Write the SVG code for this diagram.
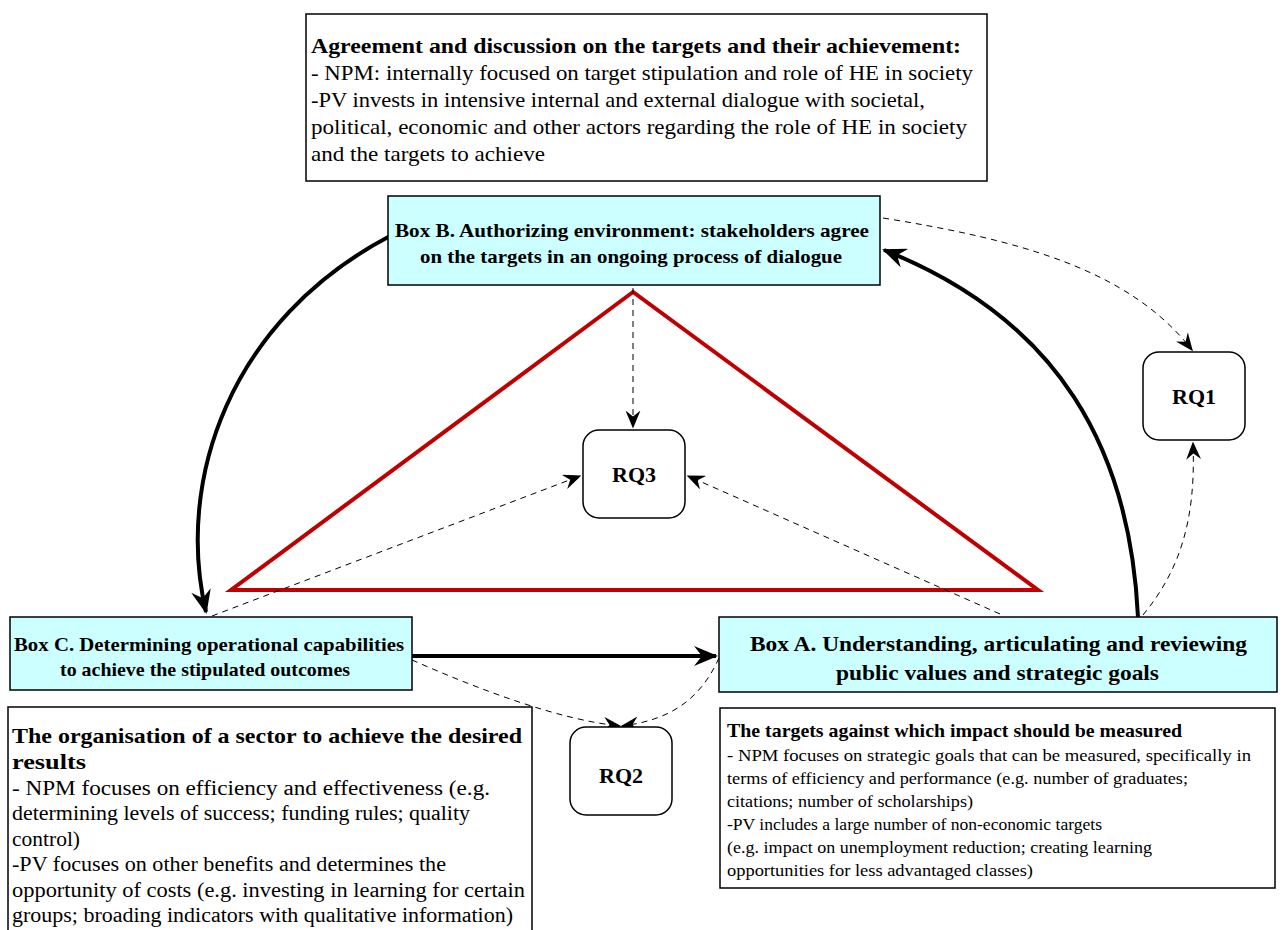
<svg xmlns="http://www.w3.org/2000/svg" width="1282" height="930" viewBox="0 0 1282 930">
<style>
.box{fill:#ffffff;stroke:#000;stroke-width:1.5}
.cy{fill:#ccffff;stroke:#000;stroke-width:1.5}
.rq{fill:#ffffff;stroke:#000;stroke-width:1.5}
text{font-family:"Liberation Serif","Times New Roman",serif;fill:#000}
.b{font-weight:bold}
.rql{font-weight:bold;font-size:22px}
.thick{fill:none;stroke:#000;stroke-width:4}
.dash{fill:none;stroke:#000;stroke-width:1;stroke-dasharray:6,5}
</style>
<defs>
<marker id="ah" viewBox="0 0 12 10" refX="11" refY="5" markerWidth="6" markerHeight="5" orient="auto" markerUnits="strokeWidth">
<path d="M0,0 L12,5 L0,10 L4,5 z" fill="#000"/>
</marker>
<marker id="ahs" viewBox="0 0 12 10" refX="11" refY="5" markerWidth="18" markerHeight="15" orient="auto" markerUnits="userSpaceOnUse">
<path d="M0,0 L12,5 L0,10 L4,5 z" fill="#000"/>
</marker>
</defs>

<g id="triangle">
<polygon points="633,292 231,590 1038,590" fill="none" stroke="#c00000" stroke-width="4"/>
</g>

<g id="connectors">
<path class="thick" d="M390,236 C230,320 175,480 206,612" marker-end="url(#ah)"/>
<path class="thick" d="M1138,617 C1130,450 1060,320 884,250" marker-end="url(#ah)"/>
<path class="thick" d="M412,656 L716,656" marker-end="url(#ah)"/>
<path class="dash" d="M883,218 C1020,240 1130,270 1192,350" marker-end="url(#ahs)"/>
<path class="dash" d="M1143,615 C1180,570 1196,520 1193,443" marker-end="url(#ahs)"/>
<path class="dash" d="M633,288 L633,427" stroke="#555" marker-end="url(#ahs)"/>
<path class="dash" d="M212,616 L580,476" marker-end="url(#ahs)"/>
<path class="dash" d="M1000,614 L688,476" marker-end="url(#ahs)"/>
<path class="dash" d="M412,660 C480,690 560,720 620,726" marker-end="url(#ahs)"/>
<path class="dash" d="M719,658 C700,700 670,720 622,726" marker-end="url(#ahs)"/>
</g>

<g id="top-note">
<rect class="box" x="306" y="14" width="681" height="167"/>
<text class="b" x="311" y="53" font-size="21" textLength="650" lengthAdjust="spacingAndGlyphs">Agreement and discussion on the targets and their achievement:</text>
<text x="311" y="80" font-size="21" textLength="662" lengthAdjust="spacingAndGlyphs">- NPM: internally focused on target stipulation and role of HE in society</text>
<text x="311" y="107" font-size="21" textLength="614" lengthAdjust="spacingAndGlyphs">-PV invests in intensive internal and external dialogue with societal,</text>
<text x="311" y="134" font-size="21" textLength="656" lengthAdjust="spacingAndGlyphs">political, economic and other actors regarding the role of HE in society</text>
<text x="311" y="161" font-size="21" textLength="234" lengthAdjust="spacingAndGlyphs">and the targets to achieve</text>
</g>

<g id="box-b">
<rect class="cy" x="388" y="196" width="492" height="89"/>
<text class="b" x="395" y="237" font-size="19" textLength="474" lengthAdjust="spacingAndGlyphs">Box B. Authorizing environment: stakeholders agree</text>
<text class="b" x="420" y="263" font-size="19" textLength="422" lengthAdjust="spacingAndGlyphs">on the targets in an ongoing process of dialogue</text>
</g>

<g id="rq3">
<rect class="rq" x="583" y="430" width="102" height="88" rx="16"/>
<text class="rql" x="634" y="482" text-anchor="middle">RQ3</text>
</g>

<g id="rq1">
<rect class="rq" x="1143" y="352" width="102" height="88" rx="16"/>
<text class="rql" x="1194" y="404" text-anchor="middle">RQ1</text>
</g>

<g id="rq2">
<rect class="rq" x="570" y="727" width="102" height="88" rx="16"/>
<text class="rql" x="621" y="783" text-anchor="middle">RQ2</text>
</g>

<g id="box-c">
<rect class="cy" x="10" y="617" width="402" height="73"/>
<text class="b" x="14" y="651" font-size="19" textLength="390" lengthAdjust="spacingAndGlyphs">Box C. Determining operational capabilities</text>
<text class="b" x="60" y="676" font-size="19" textLength="290" lengthAdjust="spacingAndGlyphs">to achieve the stipulated outcomes</text>
</g>

<g id="box-a">
<rect class="cy" x="719" y="617" width="558" height="75"/>
<text class="b" x="750" y="651" font-size="21" textLength="497" lengthAdjust="spacingAndGlyphs">Box A. Understanding, articulating and reviewing</text>
<text class="b" x="836" y="680" font-size="21" textLength="323" lengthAdjust="spacingAndGlyphs">public values and strategic goals</text>
</g>

<g id="note-c">
<rect class="box" x="8" y="707" width="524" height="230"/>
<text class="b" x="12" y="743" font-size="22" textLength="510" lengthAdjust="spacingAndGlyphs">The organisation of a sector to achieve the desired</text>
<text class="b" x="12" y="769" font-size="22" textLength="74" lengthAdjust="spacingAndGlyphs">results</text>
<text x="12" y="795" font-size="20" textLength="478" lengthAdjust="spacingAndGlyphs">- NPM focuses on efficiency and effectiveness (e.g.</text>
<text x="12" y="820" font-size="20" textLength="458" lengthAdjust="spacingAndGlyphs">determining levels of success; funding rules; quality</text>
<text x="12" y="846" font-size="20" textLength="68" lengthAdjust="spacingAndGlyphs">control)</text>
<text x="12" y="871" font-size="20" textLength="434" lengthAdjust="spacingAndGlyphs">-PV focuses on other benefits and determines the</text>
<text x="12" y="897" font-size="20" textLength="513" lengthAdjust="spacingAndGlyphs">opportunity of costs (e.g. investing in learning for certain</text>
<text x="12" y="922" font-size="20" textLength="501" lengthAdjust="spacingAndGlyphs">groups; broading indicators with qualitative information)</text>
</g>

<g id="note-a">
<rect class="box" x="720" y="708" width="555" height="180"/>
<text class="b" x="727" y="737" font-size="19" textLength="455" lengthAdjust="spacingAndGlyphs">The targets against which impact should be measured</text>
<text x="727" y="761" font-size="17" textLength="524" lengthAdjust="spacingAndGlyphs">- NPM focuses on strategic goals that can be measured, specifically in</text>
<text x="727" y="784" font-size="17" textLength="461" lengthAdjust="spacingAndGlyphs">terms of efficiency and performance (e.g. number of graduates;</text>
<text x="727" y="807" font-size="17" textLength="246" lengthAdjust="spacingAndGlyphs">citations; number of scholarships)</text>
<text x="727" y="830" font-size="17" textLength="375" lengthAdjust="spacingAndGlyphs">-PV includes a large number of non-economic targets</text>
<text x="727" y="853" font-size="17" textLength="425" lengthAdjust="spacingAndGlyphs">(e.g. impact on unemployment reduction; creating learning</text>
<text x="727" y="876" font-size="17" textLength="306" lengthAdjust="spacingAndGlyphs">opportunities for less advantaged classes)</text>
</g>
</svg>
